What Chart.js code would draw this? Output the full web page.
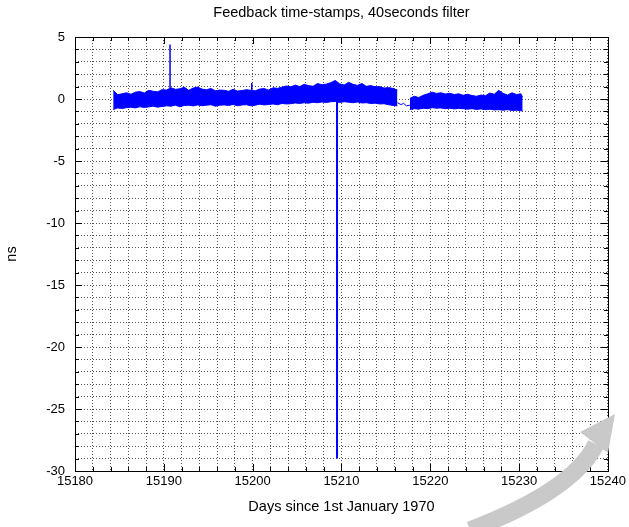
<!DOCTYPE html>
<html>
<head>
<meta charset="utf-8">
<script src="https://cdn.jsdelivr.net/npm/chart.js@4.4.1/dist/chart.umd.min.js"></script>
<style>
  html, body { margin: 0; padding: 0; background: #fff; }
  #wrap { width: 629px; height: 527px; }
</style>
</head>
<body>
<div id="wrap"><canvas id="feedbackChart" width="629" height="527"></canvas></div>
<script>
// ===== data =====
const xRange = [15180, 15240];
const yRange = [-30, 5];

// first block of time-stamps (upper / lower edge of the noisy band)
const seg1Days = [15184.3, 15184.8, 15185.3, 15185.8, 15186.3, 15186.8, 15187.3, 15187.8, 15188.3, 15188.8,
  15189.3, 15189.8, 15190.3, 15190.8, 15191.3, 15191.8, 15192.3, 15192.8, 15193.3, 15193.8,
  15194.3, 15194.8, 15195.3, 15195.8, 15196.3, 15196.8, 15197.3, 15197.8, 15198.3, 15198.8,
  15199.3, 15199.8, 15200.3, 15200.8, 15201.3, 15201.8, 15202.3, 15202.8, 15203.3, 15203.8,
  15204.3, 15204.8, 15205.3, 15205.8, 15206.3, 15206.8, 15207.3, 15207.8, 15208.3, 15208.8,
  15209.3, 15209.8, 15210.3, 15210.8, 15211.3, 15211.8, 15212.3, 15212.8, 15213.3, 15213.8,
  15214.3, 15214.8, 15215.3, 15215.8, 15216.3];
const seg1Upper = [0.70, 0.35, 0.42, 0.50, 0.38, 0.55, 0.60, 0.48, 0.70, 0.62,
  0.58, 0.75, 0.72, 0.90, 0.78, 0.82, 0.95, 0.70, 0.88, 0.96,
  0.80, 0.74, 0.85, 0.66, 0.72, 0.70, 0.62, 0.78, 0.64, 0.68,
  0.75, 0.70, 0.66, 0.80, 0.84, 0.72, 0.90, 0.86, 0.95, 1.05,
  0.98, 1.12, 1.00, 1.18, 1.08, 1.02, 1.25, 1.15, 1.20, 1.32,
  1.50, 1.22, 1.12, 1.35, 1.18, 1.10, 1.25, 1.02, 1.08, 0.98,
  1.00, 0.88, 0.92, 0.85, 0.72];
const seg1Lower = [-0.85, -0.72, -0.76, -0.70, -0.66, -0.72, -0.62, -0.68, -0.64, -0.58,
  -0.66, -0.60, -0.55, -0.58, -0.50, -0.62, -0.52, -0.50, -0.56, -0.48,
  -0.54, -0.50, -0.46, -0.58, -0.50, -0.48, -0.52, -0.44, -0.55, -0.48,
  -0.46, -0.55, -0.50, -0.42, -0.48, -0.44, -0.40, -0.46, -0.36, -0.40,
  -0.38, -0.32, -0.36, -0.30, -0.34, -0.26, -0.30, -0.24, -0.28, -0.22,
  -0.20, -0.28, -0.22, -0.26, -0.30, -0.24, -0.32, -0.30, -0.36, -0.34,
  -0.40, -0.38, -0.46, -0.52, -0.55];

// thin link across the gap
const gapDays = [15216.3, 15216.7, 15217.0, 15217.3, 15217.7];
const gapValues = [-0.30, -0.45, -0.35, -0.55, -0.50];

// second block
const seg2Days = [15217.7, 15218.2, 15218.7, 15219.2, 15219.7, 15220.2, 15220.7, 15221.2, 15221.7, 15222.2,
  15222.7, 15223.2, 15223.7, 15224.2, 15224.7, 15225.2, 15225.7, 15226.2, 15226.7, 15227.2,
  15227.7, 15228.2, 15228.7, 15229.2, 15229.7, 15230.2, 15230.4];
const seg2Upper = [0.05, 0.22, 0.12, 0.30, 0.42, 0.55, 0.45, 0.50, 0.40, 0.46,
  0.36, 0.42, 0.30, 0.38, 0.28, 0.22, 0.32, 0.26, 0.48, 0.38,
  0.70, 0.45, 0.32, 0.50, 0.36, 0.42, 0.15];
const seg2Lower = [-0.85, -0.78, -0.82, -0.74, -0.78, -0.70, -0.74, -0.72, -0.78, -0.74,
  -0.80, -0.76, -0.78, -0.82, -0.78, -0.84, -0.80, -0.86, -0.82, -0.88,
  -0.86, -0.90, -0.86, -0.92, -0.90, -0.95, -0.95];

// single outliers
const spikeUpDays = [15190.7, 15190.7];
const spikeUpValues = [0.3, 4.4];
const spikeSmallDays = [15199.9, 15199.9];
const spikeSmallValues = [0.5, 1.3];
const spikeDownDays = [15209.5, 15209.5];
const spikeDownValues = [0.0, -29.0];

const BLUE = '#0000ff';
const FONT = '"Liberation Sans", Arial, sans-serif';

function pts(days, vals) {
    return days.map((d, i) => ({ x: d, y: vals[i] }));
}

function edge(days, vals, fill, width) {
    return {
        data: pts(days, vals),
        borderColor: BLUE,
        backgroundColor: BLUE,
        borderWidth: width || 1,
        pointRadius: 0,
        tension: 0,
        fill: fill
    };
}

/**
 * gnuplot style frame with inward tick marks
 */
const framePlugin = {
    id: 'frame',
    afterDatasetsDraw(chart) {
        const { ctx, chartArea: a, scales } = chart;
        ctx.save();
        ctx.strokeStyle = '#000';
        ctx.lineWidth = 1;
        ctx.beginPath();
        scales.x.ticks.forEach(t => {
            const px = Math.round(scales.x.getPixelForValue(t.value)) + 0.5;
            const len = t.value % 10 === 0 ? 7 : 4;
            ctx.moveTo(px, a.bottom); ctx.lineTo(px, a.bottom - len);
            ctx.moveTo(px, a.top); ctx.lineTo(px, a.top + len);
        });
        scales.y.ticks.forEach(t => {
            const py = Math.round(scales.y.getPixelForValue(t.value)) + 0.5;
            const len = t.value % 5 === 0 ? 7 : 4;
            ctx.moveTo(a.left, py); ctx.lineTo(a.left + len, py);
            ctx.moveTo(a.right, py); ctx.lineTo(a.right - len, py);
        });
        ctx.stroke();
        ctx.strokeRect(Math.round(a.left) + 0.5, Math.round(a.top) + 0.5,
            Math.round(a.right - a.left), Math.round(a.bottom - a.top));
        ctx.restore();
    },
    afterDraw(chart) {
        // grey swoosh over the lower right corner of the picture
        const ctx = chart.ctx;
        ctx.save();
        ctx.strokeStyle = '#c9c9c9';
        ctx.fillStyle = '#c9c9c9';
        ctx.lineWidth = 17;
        ctx.beginPath();
        ctx.moveTo(470, 530);
        ctx.quadraticCurveTo(574, 490, 596, 444);
        ctx.stroke();
        ctx.beginPath();
        ctx.moveTo(580, 432);
        ctx.lineTo(615, 414);
        ctx.lineTo(608, 453);
        ctx.closePath();
        ctx.fill();
        ctx.restore();
    }
};

function initFeedbackChart() {
    const el = document.getElementById('feedbackChart');
    Chart.defaults.font.family = FONT;
    Chart.defaults.font.size = 13;
    Chart.defaults.color = '#000';

    new Chart(el.getContext('2d'), {
        type: 'line',
        data: {
            datasets: [
                edge(seg1Days, seg1Lower, false),
                edge(seg1Days, seg1Upper, '-1'),
                edge(seg2Days, seg2Lower, false),
                edge(seg2Days, seg2Upper, '-1'),
                edge(gapDays, gapValues, false),
                edge(spikeUpDays, spikeUpValues, false, 1.5),
                edge(spikeSmallDays, spikeSmallValues, false, 1.5),
                edge(spikeDownDays, spikeDownValues, false, 2)
            ]
        },
        options: {
            responsive: false,
            animation: false,
            layout: { padding: { left: 0, right: 21, top: 0, bottom: 0 } },
            plugins: {
                legend: { display: false },
                tooltip: { enabled: false },
                title: {
                    display: true,
                    fullSize: false,
                    text: 'Feedback time-stamps, 40seconds filter',
                    font: { size: 14.5, weight: 'normal' },
                    padding: { top: 4, bottom: 15.6 }
                }
            },
            scales: {
                x: {
                    type: 'linear',
                    min: xRange[0],
                    max: xRange[1],
                    afterFit(scale) { scale.height = 56; },
                    ticks: {
                        stepSize: 2,
                        autoSkip: false,
                        maxRotation: 0,
                        padding: 3,
                        callback: v => (v % 10 === 0 ? String(v) : '')
                    },
                    grid: {
                        color: '#555',
                        drawTicks: false
                    },
                    border: { display: false, dash: [1, 2] },
                    title: {
                        display: true,
                        text: 'Days since 1st January 1970',
                        font: { size: 14.5 },
                        padding: { top: 0, bottom: 11 }
                    }
                },
                y: {
                    min: yRange[0],
                    max: yRange[1],
                    afterFit(scale) { scale.width = 75; },
                    ticks: {
                        stepSize: 1,
                        autoSkip: false,
                        padding: 10,
                        callback: v => (v % 5 === 0 ? String(v) : '')
                    },
                    grid: {
                        color: '#555',
                        drawTicks: false
                    },
                    border: { display: false, dash: [1, 2] },
                    title: {
                        display: true,
                        text: 'ns',
                        font: { size: 14.5 },
                        padding: { top: 3, bottom: 0 }
                    }
                }
            }
        },
        plugins: [framePlugin]
    });
}

document.addEventListener('DOMContentLoaded', initFeedbackChart);
</script>
</body>
</html>
